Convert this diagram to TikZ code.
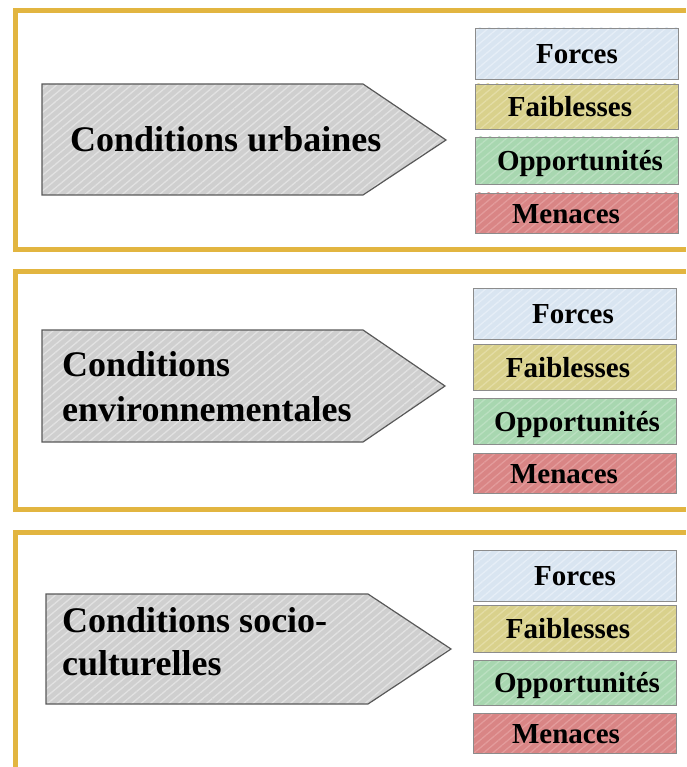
\documentclass[tikz,border=0pt]{standalone}
\usepackage{fontspec}
\setmainfont{Liberation Serif}
\usetikzlibrary{patterns.meta}
\definecolor{framegold}{HTML}{E2B540}
\definecolor{arrowgray}{HTML}{CFCFCF}
\definecolor{arrowhatch}{HTML}{E2E2E2}
\definecolor{forcesc}{HTML}{D9E5F1}
\definecolor{forcesh}{HTML}{E6EEF7}
\definecolor{faibc}{HTML}{D9D18C}
\definecolor{faibh}{HTML}{E4DDA6}
\definecolor{oppc}{HTML}{A8D7B0}
\definecolor{opph}{HTML}{BBE0C1}
\definecolor{menc}{HTML}{D98585}
\definecolor{menh}{HTML}{E39C9C}
\tikzset{
  frameline/.style={draw=framegold, line width=5pt},
  hatched/.style 2 args={preaction={fill=#1},
    preaction={pattern={Lines[angle=40,distance=6pt,line width=1.3pt]}, pattern color=#2}},
  arrowshape/.style={hatched={arrowgray}{arrowhatch}, draw=black!65, line width=1.2pt},
  swotbox/.style={draw=black!45, line width=0.8pt},
  forcesbox/.style={swotbox, hatched={forcesc}{forcesh}},
  faibbox/.style={swotbox, hatched={faibc}{faibh}},
  oppbox/.style={swotbox, hatched={oppc}{opph}},
  menbox/.style={swotbox, hatched={menc}{menh}},
  bigtext/.style={font=\bfseries\fontsize{36}{45}\selectfont, inner sep=0pt, align=left},
  boxtext/.style={font=\bfseries\fontsize{29}{34}\selectfont, inner sep=0pt, anchor=base},
}
\begin{document}
\begin{tikzpicture}[x=1pt,y=-1pt]
\useasboundingbox (0,0) rectangle (686,767);
% frames
\draw[frameline] (686,11) -- (15.5,11) -- (15.5,249) -- (686,249);
\draw[frameline] (686,271) -- (15.5,271) -- (15.5,509) -- (686,509);
\draw[frameline] (686,532) -- (15.5,532) -- (15.5,767);
% arrows
\path[arrowshape] (42,84) -- (363,84) -- (446,140) -- (363,195) -- (42,195) -- cycle;
\path[arrowshape] (42,330) -- (363,330) -- (445,386) -- (363,442) -- (42,442) -- cycle;
\path[arrowshape] (46,594) -- (368,594) -- (451,649) -- (368,704) -- (46,704) -- cycle;
\node[bigtext, anchor=base west] (t1) at (70,152) {Conditions urbaines};
\node[bigtext, anchor=base west] (t2a) at (62,376) {Conditions};
\node[bigtext, anchor=base west] (t2b) at (62,421) {environnementales};
\node[bigtext, anchor=base west] (t3a) at (62,632) {Conditions socio-};
\node[bigtext, anchor=base west] (t3b) at (62,675) {culturelles};
% SWOT boxes frame 1
\path[forcesbox] (475,28) rectangle (678,79);
\path[faibbox] (475,84) rectangle (678,129);
\path[oppbox] (475,137) rectangle (678,184);
\path[menbox] (475,193) rectangle (678,233);
\node[boxtext] (f1) at (577,63.5) {Forces};
\node[boxtext] (w1) at (570,116.5) {Faiblesses};
\node[boxtext] (o1) at (580,170.5) {Opportunités};
\node[boxtext] (m1) at (566,223) {Menaces};
% SWOT boxes frame 2
\path[forcesbox] (473,288) rectangle (676,339);
\path[faibbox] (473,344) rectangle (676,390);
\path[oppbox] (473,398) rectangle (676,444);
\path[menbox] (473,453) rectangle (676,493);
\node[boxtext] (f2) at (573,323.5) {Forces};
\node[boxtext] (w2) at (568,377) {Faiblesses};
\node[boxtext] (o2) at (577,431) {Opportunités};
\node[boxtext] (m2) at (564,483) {Menaces};
% SWOT boxes frame 3
\path[forcesbox] (473,550) rectangle (676,601);
\path[faibbox] (473,605) rectangle (676,652);
\path[oppbox] (473,660) rectangle (676,705);
\path[menbox] (473,713) rectangle (676,753);
\node[boxtext] (f3) at (575,585.5) {Forces};
\node[boxtext] (w3) at (568,638.5) {Faiblesses};
\node[boxtext] (o3) at (577,692.5) {Opportunités};
\node[boxtext] (m3) at (566,743) {Menaces};
\end{tikzpicture}
\end{document}
